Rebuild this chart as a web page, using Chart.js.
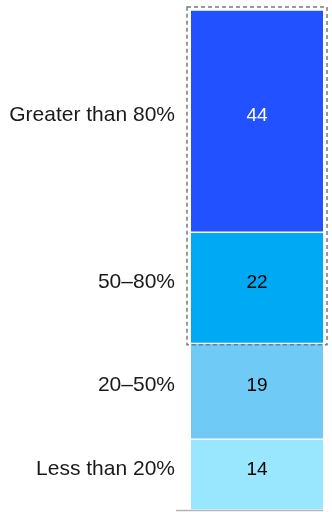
<!DOCTYPE html>
<html>
<head>
<meta charset="utf-8">
<script src="https://cdn.jsdelivr.net/npm/chart.js@4/dist/chart.umd.min.js"></script>
<style>
  html, body { margin: 0; padding: 0; background: #fff; }
  #wrap { width: 332px; height: 512px; position: relative; }
</style>
</head>
<body>
<div id="wrap"><canvas id="chart"></canvas></div>
<script>
// bottom to top
const categories = ['Less than 20%', '20–50%', '50–80%', 'Greater than 80%'];
const values = [14, 19, 22, 44];
const colors = ['#99E6FF', '#6FCBF6', '#00A9F4', '#2251FF'];
const valueColors = ['#000000', '#000000', '#000000', '#FFFFFF'];
const highlighted = [2, 3];

const LABEL_FONT = '21px "Liberation Sans", Arial, sans-serif';
const VALUE_FONT = '19px "Liberation Sans", Arial, sans-serif';

const labelsPlugin = {
  id: 'labelsPlugin',
  afterDatasetsDraw(chart) {
    const ctx = chart.ctx;
    const area = chart.chartArea;
    ctx.save();
    ctx.textBaseline = 'alphabetic';
    chart.data.datasets.forEach((ds, i) => {
      const bar = chart.getDatasetMeta(i).data[0];
      const top = Math.min(bar.y, bar.base);
      const bottom = Math.max(bar.y, bar.base);
      const cy = (top + bottom) / 2;
      ctx.font = VALUE_FONT;
      ctx.fillStyle = valueColors[i];
      ctx.textAlign = 'center';
      ctx.fillText(String(ds.data[0]), bar.x, cy);
      ctx.font = LABEL_FONT;
      ctx.fillStyle = '#1a1a1a';
      ctx.textAlign = 'right';
      ctx.fillText(categories[i], area.left - 16, cy);
    });

    // dashed box round the highlighted segments
    const first = chart.getDatasetMeta(highlighted[0]).data[0];
    const last = chart.getDatasetMeta(highlighted[highlighted.length - 1]).data[0];
    const boxTop = last.y - 3;
    const boxBottom = first.base + 1.5;
    const boxLeft = area.left - 4;
    const boxRight = area.right + 4;
    ctx.strokeStyle = '#7a7a7a';
    ctx.lineWidth = 1.5;
    ctx.setLineDash([4, 3]);
    ctx.strokeRect(boxLeft, boxTop, boxRight - boxLeft, boxBottom - boxTop);

    // baseline
    ctx.setLineDash([]);
    ctx.strokeStyle = '#b5b5b5';
    ctx.lineWidth = 1.5;
    ctx.beginPath();
    ctx.moveTo(area.left - 15, area.bottom + 0.5);
    ctx.lineTo(area.right, area.bottom + 0.5);
    ctx.stroke();
    ctx.restore();
  }
};

new Chart(document.getElementById('chart'), {
  type: 'bar',
  data: {
    labels: [''],
    datasets: values.map((v, i) => ({
      label: categories[i],
      data: [v],
      backgroundColor: colors[i],
      borderColor: '#ffffff',
      borderWidth: { top: 1, bottom: 1, left: 0, right: 0 },
      borderSkipped: false,
      barPercentage: 1,
      categoryPercentage: 1,
    })),
  },
  options: {
    responsive: true,
    maintainAspectRatio: false,
    animation: false,
    layout: { padding: { left: 191, right: 9, top: 10, bottom: 2 } },
    plugins: {
      legend: { display: false },
      tooltip: { enabled: false },
    },
    scales: {
      x: { stacked: true, display: false },
      y: { stacked: true, display: false, min: 0, max: 99 },
    },
  },
  plugins: [labelsPlugin],
});
</script>
</body>
</html>
